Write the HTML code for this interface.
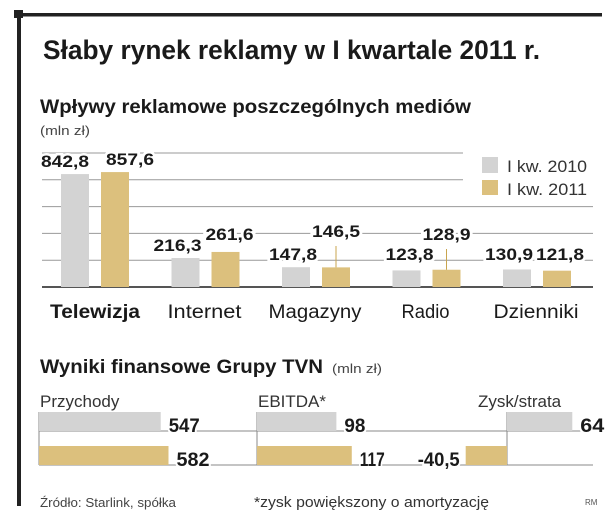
<!DOCTYPE html>
<html><head><meta charset="utf-8"><style>
html,body{margin:0;padding:0;background:#fff;}
svg{display:block;font-family:"Liberation Sans","DejaVu Sans",sans-serif;}
</style></head><body>
<svg id="c" width="615" height="518" viewBox="0 0 615 518" xmlns="http://www.w3.org/2000/svg">
<rect x="0" y="0" width="615" height="518" fill="#fff"/>
<rect x="14" y="13" width="588" height="3.5" fill="#222"/>
<rect x="14" y="10" width="9" height="8" fill="#222"/>
<rect x="17" y="10" width="4" height="496" fill="#222"/>
<text x="43" y="59" font-size="27" font-weight="bold" fill="#1a1a1a" textLength="497" lengthAdjust="spacingAndGlyphs">Słaby rynek reklamy w I kwartale 2011 r.</text>
<text x="40" y="113" font-size="19" font-weight="bold" fill="#1a1a1a" textLength="431" lengthAdjust="spacingAndGlyphs">Wpływy reklamowe poszczególnych mediów</text>
<text x="40" y="135" font-size="13" fill="#444" textLength="50" lengthAdjust="spacingAndGlyphs">(mln zł)</text>
<g id="grid"></g>
<g id="bars"></g>
<g id="legend">
<rect x="482" y="157" width="16" height="16" fill="#d3d3d3"/>
<text x="507" y="172" font-size="17" fill="#333" textLength="80" lengthAdjust="spacingAndGlyphs">I kw. 2010</text>
<rect x="482" y="180" width="16" height="15" fill="#dcc07d"/>
<text x="507" y="195" font-size="17" fill="#333" textLength="80" lengthAdjust="spacingAndGlyphs">I kw. 2011</text>
</g>
<text x="40" y="373" font-size="19" font-weight="bold" fill="#1a1a1a" textLength="283" lengthAdjust="spacingAndGlyphs">Wyniki finansowe Grupy TVN</text>
<text x="332" y="373" font-size="13" fill="#444" textLength="50" lengthAdjust="spacingAndGlyphs">(mln zł)</text>
<g id="tvn"></g>
<text x="40" y="507" font-size="13" fill="#444" textLength="136" lengthAdjust="spacingAndGlyphs">Źródło: Starlink, spółka</text>
<text x="254" y="507" font-size="15" fill="#333" textLength="235" lengthAdjust="spacingAndGlyphs">*zysk powiększony o amortyzację</text>
<text x="585" y="505" font-size="8" fill="#555">RM</text>
</svg>
<script>
const categories = ["Telewizja","Internet","Magazyny","Radio","Dzienniki"];
const values2010 = [842.8, 216.3, 147.8, 123.8, 130.9];
const values2011 = [857.6, 261.6, 146.5, 128.9, 121.8];
const valueLabels2010 = ["842,8","216,3","147,8","123,8","130,9"];
const valueLabels2011 = ["857,6","261,6","146,5","128,9","121,8"];
const gridTicks = [0,200,400,600,800,1000];

const tvnPanels = ["Przychody","EBITDA*","Zysk/strata"];
const tvn2010 = [547, 98, 64];
const tvn2011 = [582, 117, -40.5];
const tvnLabels2010 = ["547","98","64"];
const tvnLabels2011 = ["582","117","-40,5"];

const NS="http://www.w3.org/2000/svg";
function mk(tag, attrs, parent){const e=document.createElementNS(NS,tag);for(const k in attrs)e.setAttribute(k,attrs[k]);parent.appendChild(e);return e;}
const GRAY="#d3d3d3", GOLD="#dcc07d";
const baseY=287, pxPerUnit=(287-153)/1000;
const y=v=>baseY-v*pxPerUnit;
const groupX=i=>61+i*110.5;
const barW=28, barGap=12;
const grid=document.getElementById('grid'), bars=document.getElementById('bars');
gridTicks.forEach((t,i)=>{
  const x2 = (t>=800)?463:593;
  const l=mk('line',{x1:42,x2:x2,y1:y(t),y2:y(t),stroke:t===0?"#555":"#999","stroke-width":t===0?2:1},grid);
  
  
});
const labelDx2010=[-10,-8,-3,3,-8], labelDx2011=[15,4,0,0,3];
const lift2011=[0,5,23,20,0], leader2011=[false,false,true,true,false];
const catFont=[true,false,false,false,false];
const catWidth=[90,74,93,48,85];
categories.forEach((c,i)=>{
  const x0=groupX(i), x1=x0+barW+barGap;
  const b1=mk('rect',{x:x0,y:y(values2010[i]),width:barW,height:values2010[i]*pxPerUnit,fill:GRAY},bars);
  
  
  const b2=mk('rect',{x:x1,y:y(values2011[i]),width:barW,height:values2011[i]*pxPerUnit,fill:GOLD},bars);
  
  
  const ly1=Math.min(y(values2010[i])-7,260);
  const t1=mk('text',{x:x0+barW/2+labelDx2010[i],y:ly1,"text-anchor":"middle","font-size":17,"font-weight":"bold",fill:"#1a1a1a",stroke:"#fff","stroke-width":5,"paint-order":"stroke",textLength:48,lengthAdjust:"spacingAndGlyphs"},bars);
  t1.textContent=valueLabels2010[i];
  
  
  const ly2=Math.min(y(values2011[i])-7,260)-lift2011[i];
  if(leader2011[i]){
    const ld=mk('line',{x1:x1+barW/2,x2:x1+barW/2,y1:ly2+9,y2:y(values2011[i]),stroke:"#c9a54f","stroke-width":1},bars);
    
    
  }
  const t2=mk('text',{x:x1+barW/2+labelDx2011[i],y:ly2,"text-anchor":"middle","font-size":17,"font-weight":"bold",fill:"#1a1a1a",stroke:"#fff","stroke-width":5,"paint-order":"stroke",textLength:48,lengthAdjust:"spacingAndGlyphs"},bars);
  t2.textContent=valueLabels2011[i];
  
  
  const ct=mk('text',{x:x0+barW+barGap/2+(i===0?0:-1),y:318,"text-anchor":"middle","font-size":19,"font-weight":catFont[i]?"bold":"normal",fill:"#1a1a1a",textLength:catWidth[i],lengthAdjust:"spacingAndGlyphs"},bars);
  ct.textContent=c;
  
  
});
const tvn=document.getElementById('tvn');
const axisX=[39,257,507], scale=[0.2225,0.81,1.02];
const row1Top=412,row1Bot=431,row2Top=446,row2Bot=465;
const w2010=[31,21,24], w2011=[33,25,42];
[row1Bot,row2Bot].forEach((ry,k)=>{
  const l=mk('line',{x1:39,x2:593,y1:ry,y2:ry,stroke:"#888","stroke-width":1},tvn);
  
  
});
tvnPanels.forEach((p,i)=>{
  const ax=axisX[i], s=scale[i];
  const al=mk('line',{x1:ax,x2:ax,y1:row1Top,y2:row2Bot,stroke:"#888","stroke-width":1},tvn);
  
  
  const pt=mk('text',{x:i===2?478:(ax+1),y:407,"font-size":17,fill:"#333"},tvn);
  pt.textContent=p;
  
  
  [[tvn2010,tvnLabels2010,row1Top,row1Bot,GRAY,'2010',w2010],[tvn2011,tvnLabels2011,row2Top,row2Bot,GOLD,'2011',w2011]].forEach(([vals,labs,top,bot,col,yr,ws])=>{
    const v=vals[i], w=Math.abs(v)*s, bx=v>=0?ax:ax-w;
    const r=mk('rect',{x:bx,y:top,width:w,height:bot-top,fill:col},tvn);
    
    
    const lx=v>=0?ax+w+8:ax-w-6;
    const t=mk('text',{x:lx,y:bot+1,"text-anchor":v>=0?"start":"end","font-size":19,"font-weight":"bold",fill:"#1a1a1a",stroke:"#fff","stroke-width":4,"paint-order":"stroke",textLength:ws[i],lengthAdjust:"spacingAndGlyphs"},tvn);
    t.textContent=labs[i];
    
    
  });
});
</script>
</body></html>
